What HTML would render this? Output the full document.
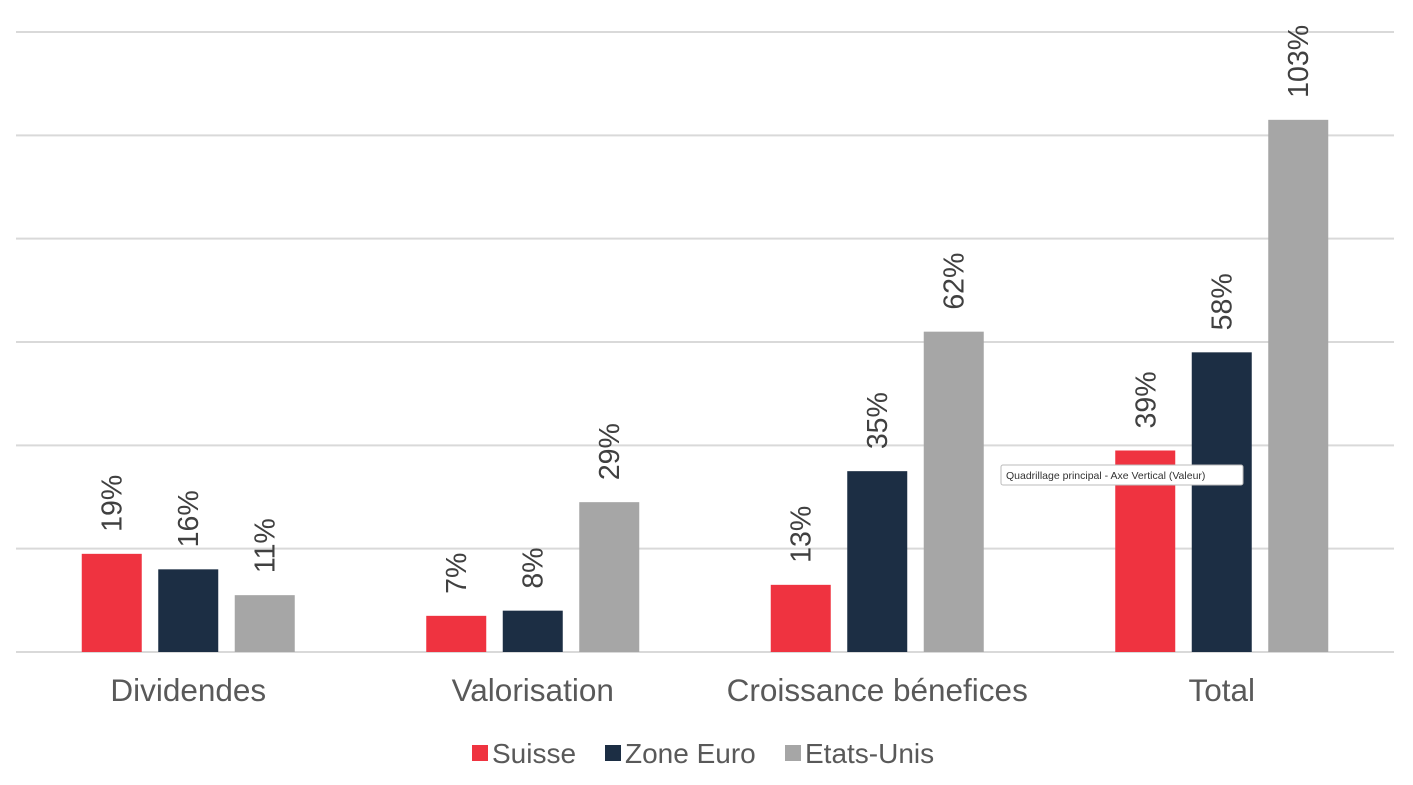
<!DOCTYPE html>
<html><head><meta charset="utf-8"><style>
html,body{margin:0;padding:0;background:#fff;}
svg{display:block;font-family:"Liberation Sans",Arial,sans-serif;}
</style></head><body>
<svg id="chart" width="1413" height="785"></svg>
<script>
const categories = ["Dividendes","Valorisation","Croissance bénefices","Total"];
const seriesNames = ["Suisse","Zone Euro","Etats-Unis"];
const suisse = [19,7,13,39];
const zoneEuro = [16,8,35,58];
const etatsUnis = [11,29,62,103];
const yTicks = [0,20,40,60,80,100,120];
const colors = ["#ef3340","#1c2e44","#a6a6a6"];
const series = [suisse, zoneEuro, etatsUnis];

const NS = "http://www.w3.org/2000/svg";
const svg = document.getElementById("chart");
const plotL = 16, plotR = 1394, baseY = 652, topY = 32, yMax = 120;
const yScale = v => baseY - v / yMax * (baseY - topY);
const bandW = (plotR - plotL) / categories.length;
const xCenter = i => plotL + bandW * (i + 0.5);
const barW = 60, step = 76.5;
function mk(tag, attrs, parent) {
  const e = document.createElementNS(NS, tag);
  for (const k in attrs) e.setAttribute(k, attrs[k]);
  (parent || svg).appendChild(e);
  return e;
}
yTicks.forEach((t, i) => {
  const g = mk("line", {x1: plotL, x2: plotR, y1: yScale(t), y2: yScale(t), stroke: "#d9d9d9", "stroke-width": 2});
  
  
});
categories.forEach((c, ci) => {
  series.forEach((s, si) => {
    const cx = xCenter(ci) + (si - 1) * step;
    const v = s[ci];
    const r = mk("rect", {x: cx - barW / 2, y: yScale(v), width: barW, height: baseY - yScale(v), fill: colors[si]});
    
    
    const ty = yScale(v) - 22;
    const t = mk("text", {x: cx + 10, y: ty, transform: `rotate(-90 ${cx + 10} ${ty})`, "font-size": 28.5, fill: "#404040"});
    t.textContent = v + "%";
    
    
  });
  const l = mk("text", {x: xCenter(ci), y: 701, "text-anchor": "middle", "font-size": 31.5, fill: "#595959"});
  l.textContent = c;
  
  
});
const legX = [472, 605, 785];
seriesNames.forEach((n, i) => {
  const sq = mk("rect", {x: legX[i], y: 745, width: 16, height: 16, fill: colors[i]});
  
  
  const t = mk("text", {x: legX[i] + 20, y: 763, "font-size": 28, fill: "#595959"});
  t.textContent = n;
  
  
});
const tipR = mk("rect", {x: 1001, y: 465, width: 242, height: 20, fill: "#fff", stroke: "#bbb", "stroke-width": 1, rx: 2});


const tipT = mk("text", {x: 1006, y: 479, "font-size": 10.5, fill: "#333"});
tipT.textContent = "Quadrillage principal - Axe Vertical (Valeur)";


</script>
</body></html>
